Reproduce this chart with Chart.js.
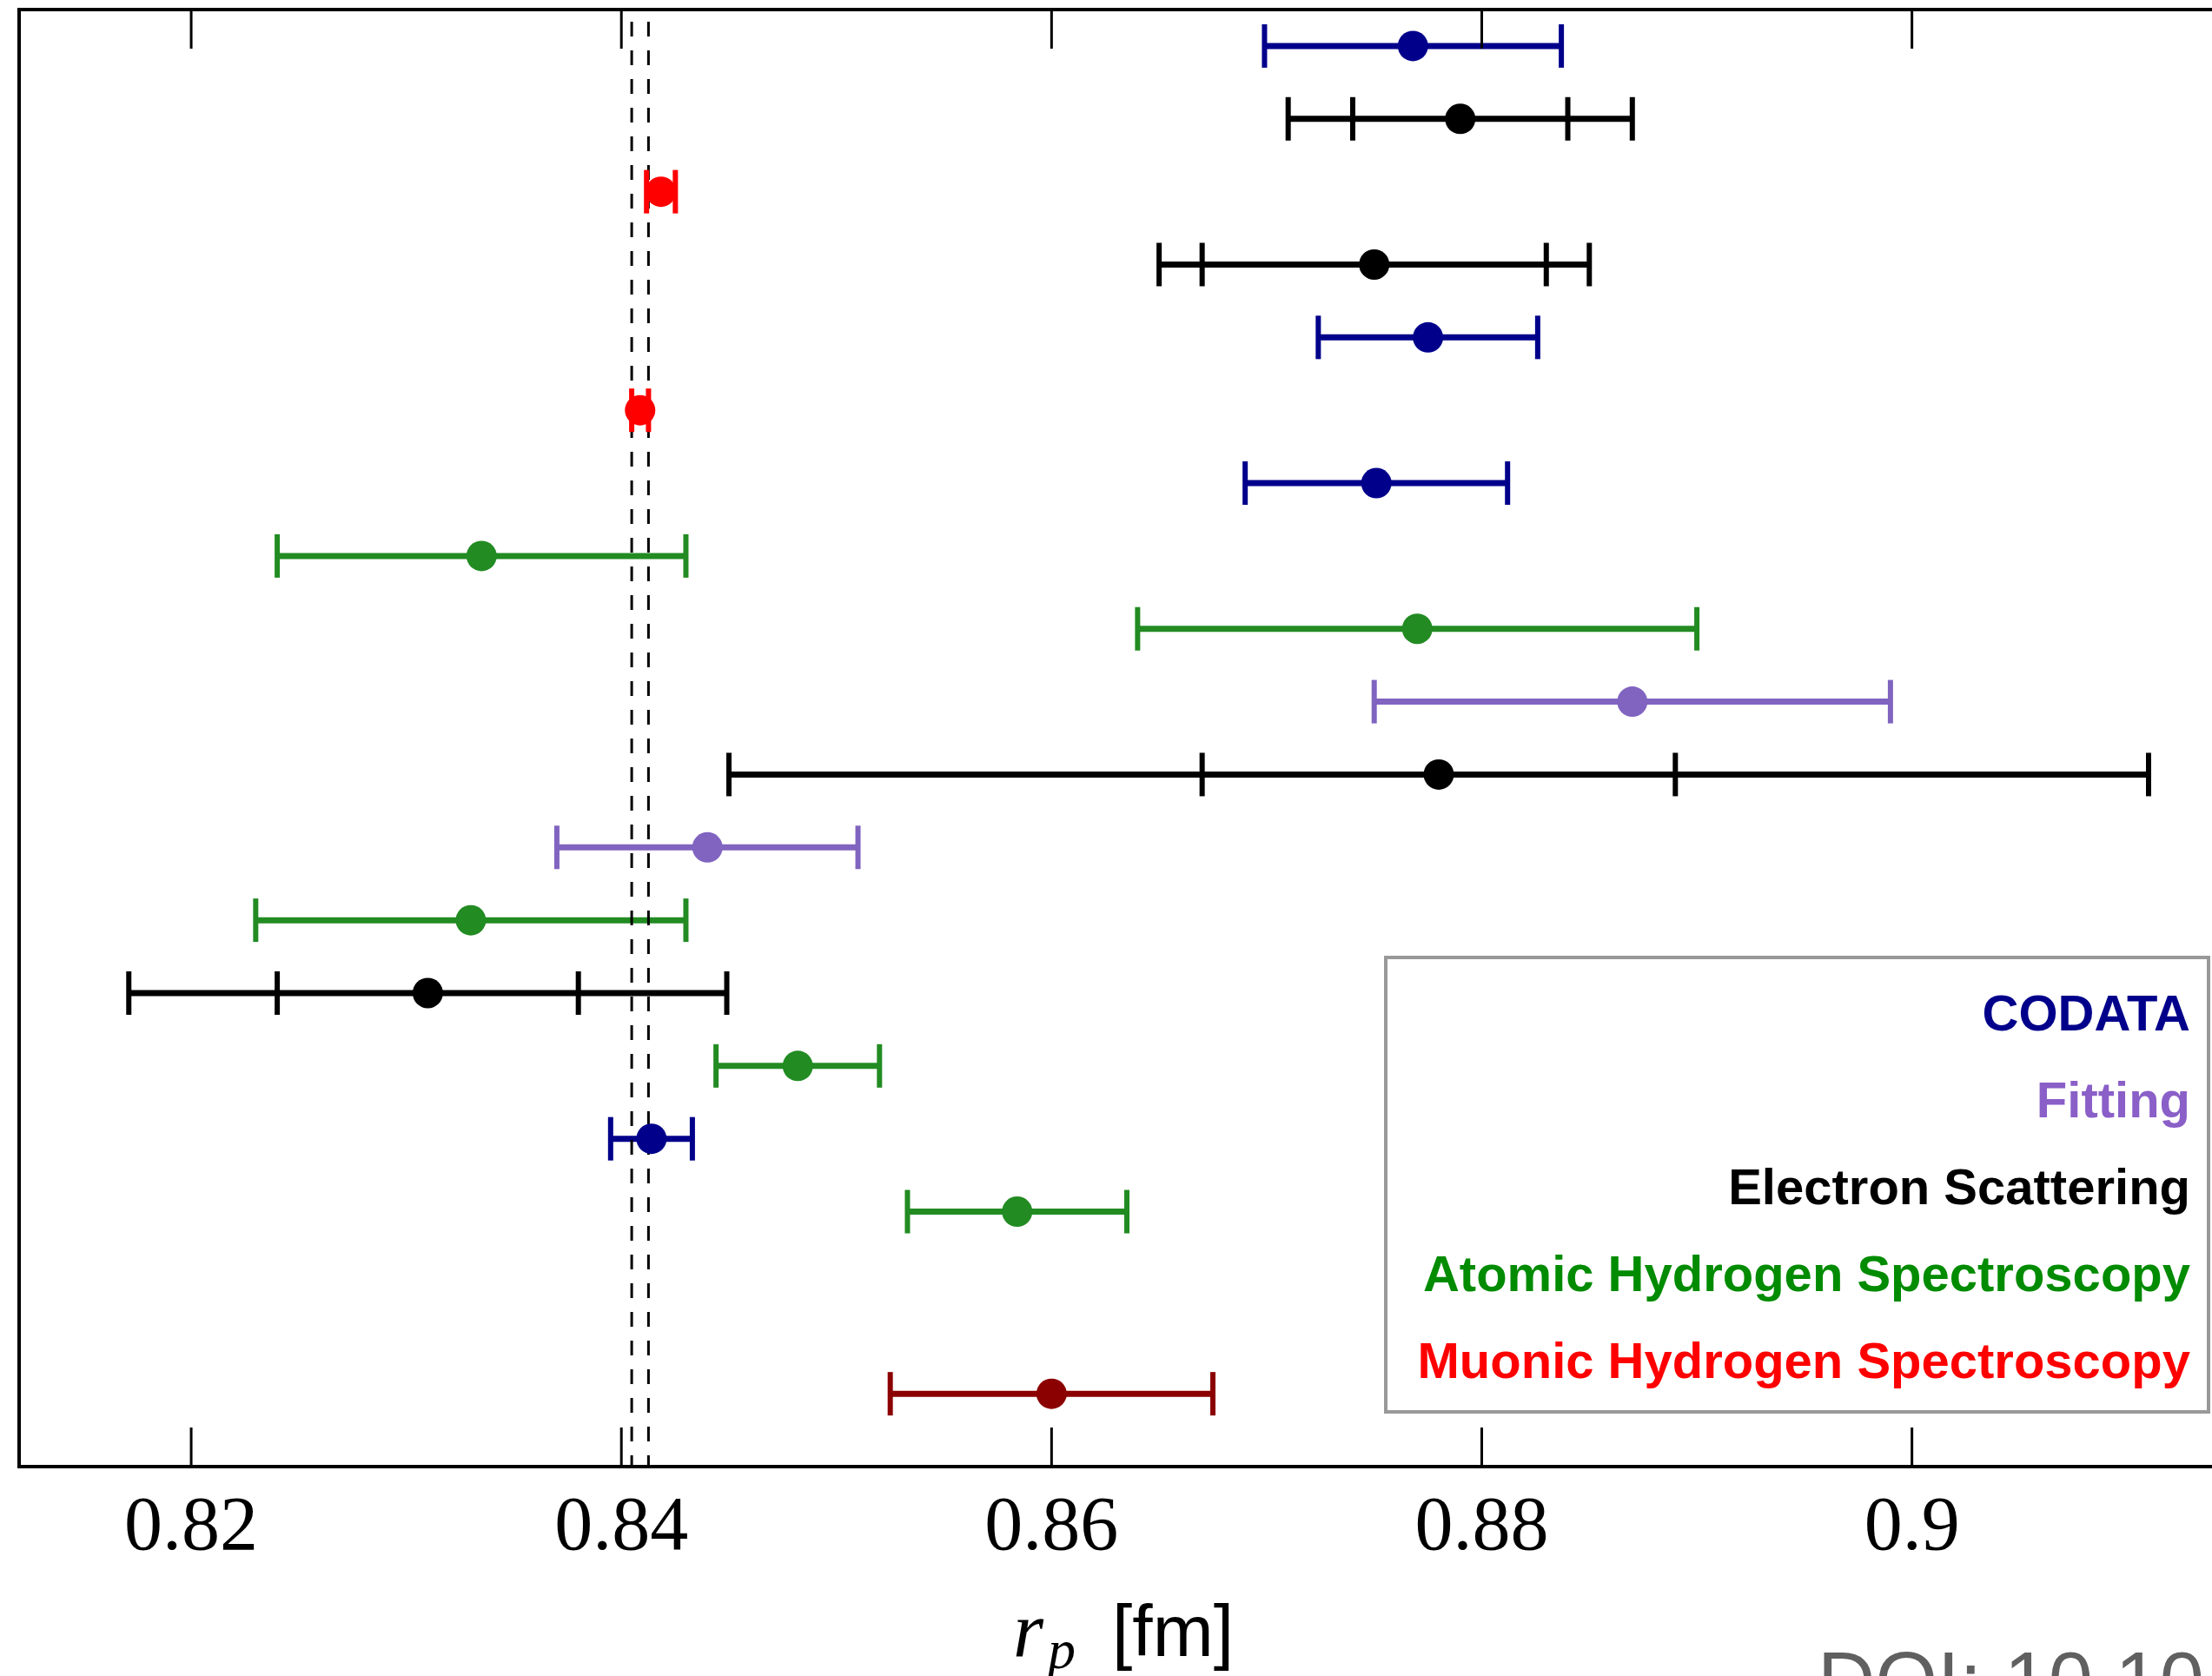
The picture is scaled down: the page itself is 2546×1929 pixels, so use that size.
<!DOCTYPE html>
<html>
<head>
<meta charset="utf-8">
<title>Proton charge radius</title>
<script src="https://cdn.jsdelivr.net/npm/chart.js@4.4.1/dist/chart.umd.min.js"></script>
<style>
  html, body { margin: 0; padding: 0; background: #fff; overflow: hidden; }
  #wrap { position: relative; width: 2546px; height: 1929px; overflow: hidden; }
  #myChart { position: absolute; left: 0; top: 0; }
  #legend {
    position: absolute; left: 1593px; top: 1100px; width: 951px; height: 527px;
    box-sizing: border-box; border: 4px solid #999; padding: 12px 19px 0 0;
    font: bold 58px "Liberation Sans", Arial, sans-serif; text-align: right;
  }
  #legend div { height: 100px; line-height: 100px; white-space: nowrap; }
  .t { position: absolute; white-space: nowrap; line-height: 1; }
</style>
</head>
<body>
<div id="wrap">
  <canvas id="myChart" width="2600" height="1929"></canvas>
  <div id="legend"></div>
  <span class="t" style="left:1166px; top:1824px; font: italic 90px 'Liberation Serif', serif;">r</span>
  <span class="t" style="left:1206px; top:1862px; font: italic 64px 'Liberation Serif', serif;">p</span>
  <span class="t" style="left:1280px; top:1829px; font: 84px 'Liberation Sans', sans-serif;">[fm]</span>
  <span class="t" style="left:2092px; top:1882px; font: 92px 'Liberation Sans', sans-serif; color:#606060;">DOI: 10.10</span>
</div>
<script>
// kategorie (legenda)
const groups = [
  "CODATA",
  "Fitting",
  "Electron Scattering",
  "Atomic Hydrogen Spectroscopy",
  "Muonic Hydrogen Spectroscopy",
];

// pomiary, od góry do dołu
const rowPos = [0, 1, 2, 3, 4, 5, 6, 7, 8, 9, 10, 11, 12, 13, 14, 15, 16, 18.5];
const rowGroup = [
  "CODATA", "Electron Scattering", "Muonic Hydrogen Spectroscopy",
  "Electron Scattering", "CODATA", "Muonic Hydrogen Spectroscopy",
  "CODATA", "Atomic Hydrogen Spectroscopy", "Atomic Hydrogen Spectroscopy",
  "Fitting", "Electron Scattering", "Fitting",
  "Atomic Hydrogen Spectroscopy", "Electron Scattering", "Atomic Hydrogen Spectroscopy",
  "CODATA", "Atomic Hydrogen Spectroscopy", "Other",
];
const radius = [0.8768, 0.879, 0.84184, 0.875, 0.8775, 0.84087, 0.8751, 0.8335, 0.877,
  0.887, 0.878, 0.844, 0.833, 0.831, 0.8482, 0.8414, 0.8584, 0.86];
const errInner = [0.0069, 0.005, 0.00067, 0.008, 0.0051, 0.00039, 0.0061, 0.0095, 0.013,
  0.012, 0.011, 0.007, 0.01, 0.007, 0.0038, 0.0019, 0.0051, 0.0075];
const errOuter = [null, 0.008, null, 0.01, null, null, null, null, null,
  null, 0.033, null, null, 0.0139, null, null, null, null];

// pasmo muonowe (linie przerywane)
const muonicBand = [0.84048, 0.84126];
const xTicks = [0.82, 0.84, 0.86, 0.88, 0.9];

const barColors = {
  "CODATA": "#00008b",
  "Fitting": "#8064c0",
  "Electron Scattering": "#000000",
  "Atomic Hydrogen Spectroscopy": "#228b22",
  "Muonic Hydrogen Spectroscopy": "#ff0000",
  "Other": "#8b0000",
};
const legendColors = {
  "CODATA": "#00008b",
  "Fitting": "#8a5fc8",
  "Electron Scattering": "#000000",
  "Atomic Hydrogen Spectroscopy": "#008b00",
  "Muonic Hydrogen Spectroscopy": "#ff0000",
};

// legenda w HTML
const legendEl = document.getElementById("legend");
groups.forEach(function (g) {
  const d = document.createElement("div");
  d.textContent = g;
  d.style.color = legendColors[g];
  legendEl.appendChild(d);
});

const datasets = [];
radius.forEach(function (r, i) {
  const y = rowPos[i];
  const color = barColors[rowGroup[i]];
  const span = errOuter[i] !== null ? errOuter[i] : errInner[i];
  const caps = [r - errInner[i], r + errInner[i]];
  if (errOuter[i] !== null) {
    caps.push(r - errOuter[i], r + errOuter[i]);
  }
  datasets.push({
    label: rowGroup[i] + " bar",
    showLine: true,
    data: [{ x: r - span, y: y }, { x: r + span, y: y }],
    borderColor: color,
    borderWidth: 7,
    pointRadius: 0,
    order: 3,
  });
  datasets.push({
    label: rowGroup[i] + " caps",
    data: caps.map(function (c) { return { x: c, y: y }; }),
    pointStyle: "line",
    rotation: 90,
    pointRadius: 25,
    borderColor: color,
    borderWidth: 6,
    order: 1,
  });
  datasets.push({
    label: rowGroup[i],
    data: [{ x: r, y: y }],
    pointStyle: "circle",
    pointRadius: 17.5,
    backgroundColor: color,
    borderWidth: 0,
    order: 0,
  });
});

muonicBand.forEach(function (v) {
  datasets.push({
    label: "muonic band",
    showLine: true,
    data: [{ x: v, y: -0.5 }, { x: v, y: 19.5 }],
    borderColor: "#000",
    borderWidth: 3,
    borderDash: [17, 16],
    borderDashOffset: 19,
    pointRadius: 0,
    order: 2,
  });
});

// ramka i znaczniki skierowane do środka
const framePlugin = {
  id: "frame",
  afterDatasetsDraw(chart) {
    const { ctx, chartArea } = chart;
    const xs = chart.scales.x;
    ctx.save();
    ctx.strokeStyle = "#000";
    ctx.lineWidth = 3;
    xs.ticks.forEach(function (t) {
      const px = xs.getPixelForValue(t.value);
      ctx.beginPath();
      ctx.moveTo(px, chartArea.top);
      ctx.lineTo(px, chartArea.top + 45);
      ctx.moveTo(px, chartArea.bottom);
      ctx.lineTo(px, chartArea.bottom - 45);
      ctx.stroke();
    });
    ctx.lineWidth = 4;
    ctx.strokeRect(chartArea.left, chartArea.top, chartArea.right - chartArea.left, chartArea.bottom - chartArea.top);
    ctx.restore();
  },
};

const ctx = document.getElementById("myChart").getContext("2d");
const myChart = new Chart(ctx, {
  type: "scatter",
  data: { datasets: datasets },
  plugins: [framePlugin],
  options: {
    responsive: false,
    animation: false,
    events: [],
    devicePixelRatio: 1,
    layout: {
      autoPadding: false,
      padding: { left: 22, top: 11, right: 28, bottom: 97 },
    },
    scales: {
      x: {
        type: "linear",
        min: 0.812,
        max: 0.915,
        afterBuildTicks: function (scale) {
          scale.ticks = xTicks.map(function (v) { return { value: v }; });
        },
        ticks: {
          autoSkip: false,
          maxRotation: 0,
          padding: 28,
          color: "#000",
          font: { family: "'Liberation Serif', serif", size: 88, lineHeight: 1 },
          callback: function (value) { return String(value); },
        },
        grid: { display: false, drawTicks: false },
        border: { display: false },
      },
      y: {
        type: "linear",
        reverse: true,
        min: -0.5,
        max: 19.5,
        display: false,
      },
    },
    plugins: {
      legend: { display: false },
      tooltip: { enabled: false },
    },
  },
});
</script>
</body>
</html>
